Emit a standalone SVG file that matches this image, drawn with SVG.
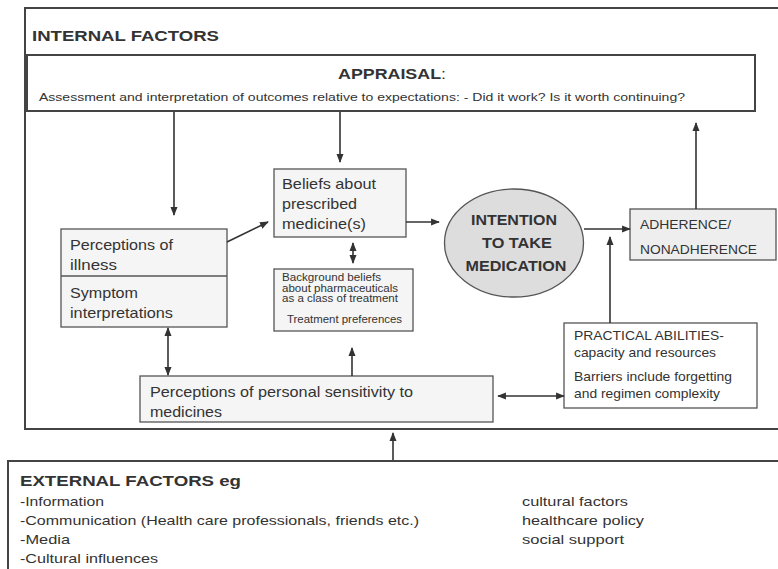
<svg xmlns="http://www.w3.org/2000/svg" width="778" height="569" viewBox="0 0 778 569">
<style>
text{font-family:"Liberation Sans",Arial,sans-serif;fill:#333}
.b{font-weight:bold}
.box{fill:#f5f5f5;stroke:#555;stroke-width:1.3}
.ln{stroke:#333;stroke-width:1.6;fill:none}
</style>
<defs>
<marker id="ah" viewBox="0 0 10 10" refX="9" refY="5" markerWidth="5.5" markerHeight="5.5" orient="auto-start-reverse" markerUnits="strokeWidth">
<path d="M0,1 L10,5 L0,9 Z" fill="#333"/>
</marker>
</defs>
<rect width="778" height="569" fill="#fff"/>

<g id="internal">
<rect x="25" y="8" width="770" height="421" fill="#fff" stroke="#444" stroke-width="2"/>
<text x="32" y="41" class="b" font-size="15" textLength="187" lengthAdjust="spacingAndGlyphs">INTERNAL FACTORS</text>
</g>

<g id="appraisal">
<rect x="27" y="55" width="728" height="56" fill="#fff" stroke="#444" stroke-width="2"/>
<text x="338" y="79" class="b" font-size="15" textLength="108" lengthAdjust="spacingAndGlyphs">APPRAISAL<tspan font-weight="normal">:</tspan></text>
<text x="39" y="101" font-size="11.5" textLength="646" lengthAdjust="spacingAndGlyphs">Assessment and interpretation of outcomes  relative to expectations: - Did it work? Is it worth continuing?</text>
</g>

<g id="perceptions">
<rect x="61" y="229" width="166" height="98" class="box"/>
<line x1="61" y1="276" x2="227" y2="276" stroke="#555" stroke-width="1.3"/>
<text x="70" y="250" font-size="14.5" textLength="103" lengthAdjust="spacingAndGlyphs">Perceptions of</text>
<text x="70" y="270" font-size="14.5" textLength="47" lengthAdjust="spacingAndGlyphs">illness</text>
<text x="70" y="298" font-size="14.5" textLength="68" lengthAdjust="spacingAndGlyphs">Symptom</text>
<text x="70" y="318" font-size="14.5" textLength="103" lengthAdjust="spacingAndGlyphs">interpretations</text>
</g>

<g id="beliefs">
<rect x="274" y="169" width="132" height="68" class="box"/>
<text x="282" y="189" font-size="14.5" textLength="94" lengthAdjust="spacingAndGlyphs">Beliefs about</text>
<text x="282" y="209" font-size="14.5" textLength="75" lengthAdjust="spacingAndGlyphs">prescribed</text>
<text x="282" y="229" font-size="14.5" textLength="84" lengthAdjust="spacingAndGlyphs">medicine(s)</text>
</g>

<g id="background">
<rect x="274" y="269" width="139" height="62" class="box"/>
<text x="282" y="281" font-size="10" textLength="99" lengthAdjust="spacingAndGlyphs">Background beliefs</text>
<text x="282" y="291.5" font-size="10" textLength="116" lengthAdjust="spacingAndGlyphs">about pharmaceuticals</text>
<text x="282" y="302" font-size="10" textLength="116" lengthAdjust="spacingAndGlyphs">as a class of treatment</text>
<text x="287" y="323" font-size="10.5" textLength="115" lengthAdjust="spacingAndGlyphs">Treatment preferences</text>
</g>

<g id="intention">
<ellipse cx="514" cy="243" rx="69.5" ry="54" fill="#ddd" stroke="#555" stroke-width="1.3"/>
<text x="514" y="225" class="b" font-size="14.5" text-anchor="middle" textLength="86" lengthAdjust="spacingAndGlyphs">INTENTION</text>
<text x="517" y="248" class="b" font-size="14.5" text-anchor="middle" textLength="70" lengthAdjust="spacingAndGlyphs">TO TAKE</text>
<text x="516" y="271" class="b" font-size="14.5" text-anchor="middle" textLength="101" lengthAdjust="spacingAndGlyphs">MEDICATION</text>
</g>

<g id="adherence">
<rect x="630" y="209" width="146" height="51" fill="#eee" stroke="#555" stroke-width="1.3"/>
<text x="640" y="229" font-size="13.5" textLength="91" lengthAdjust="spacingAndGlyphs">ADHERENCE/</text>
<text x="640" y="254" font-size="13.5" textLength="117" lengthAdjust="spacingAndGlyphs">NONADHERENCE</text>
</g>

<g id="practical">
<rect x="564" y="323" width="193" height="85" fill="#fff" stroke="#555" stroke-width="1.3"/>
<text x="574" y="340" font-size="13" textLength="150" lengthAdjust="spacingAndGlyphs">PRACTICAL ABILITIES-</text>
<text x="574" y="357" font-size="13" textLength="142" lengthAdjust="spacingAndGlyphs">capacity and resources</text>
<text x="574" y="381" font-size="13" textLength="158" lengthAdjust="spacingAndGlyphs">Barriers include forgetting</text>
<text x="574" y="398" font-size="13" textLength="146" lengthAdjust="spacingAndGlyphs">and regimen complexity</text>
</g>

<g id="sensitivity">
<rect x="140" y="376" width="353" height="46" class="box"/>
<text x="150" y="397" font-size="14.5" textLength="263" lengthAdjust="spacingAndGlyphs">Perceptions of personal sensitivity to</text>
<text x="150" y="417" font-size="14.5" textLength="72" lengthAdjust="spacingAndGlyphs">medicines</text>
</g>

<g id="external">
<rect x="8" y="461" width="790" height="120" fill="#fff" stroke="#444" stroke-width="2"/>
<text x="20" y="486" class="b" font-size="15.5" textLength="221" lengthAdjust="spacingAndGlyphs">EXTERNAL FACTORS eg</text>
<text x="20" y="506" font-size="13" textLength="84" lengthAdjust="spacingAndGlyphs">-Information</text>
<text x="20" y="525" font-size="13" textLength="399" lengthAdjust="spacingAndGlyphs">-Communication (Health care professionals, friends etc.)</text>
<text x="20" y="544" font-size="13" textLength="50" lengthAdjust="spacingAndGlyphs">-Media</text>
<text x="20" y="563" font-size="13" textLength="138" lengthAdjust="spacingAndGlyphs">-Cultural influences</text>
<text x="522" y="506" font-size="13" textLength="106" lengthAdjust="spacingAndGlyphs">cultural factors</text>
<text x="522" y="525" font-size="13" textLength="122" lengthAdjust="spacingAndGlyphs">healthcare policy</text>
<text x="522" y="544" font-size="13" textLength="102" lengthAdjust="spacingAndGlyphs">social support</text>
</g>

<g id="connectors">
<line class="ln" x1="174" y1="112" x2="174" y2="215" marker-end="url(#ah)"/>
<line class="ln" x1="340" y1="112" x2="340" y2="162" marker-end="url(#ah)"/>
<line class="ln" x1="227" y1="242" x2="268" y2="222" marker-end="url(#ah)"/>
<line class="ln" x1="406" y1="222" x2="439" y2="222" marker-end="url(#ah)"/>
<line class="ln" x1="353" y1="243" x2="353" y2="263" marker-start="url(#ah)" marker-end="url(#ah)"/>
<line class="ln" x1="584" y1="229" x2="630" y2="229" marker-end="url(#ah)"/>
<line class="ln" x1="696" y1="209" x2="696" y2="123" marker-end="url(#ah)"/>
<line class="ln" x1="610" y1="323" x2="610" y2="237" marker-end="url(#ah)"/>
<line class="ln" x1="168" y1="328" x2="168" y2="375" marker-start="url(#ah)" marker-end="url(#ah)"/>
<line class="ln" x1="352" y1="376" x2="352" y2="348" marker-end="url(#ah)"/>
<line class="ln" x1="498" y1="396" x2="564" y2="396" marker-start="url(#ah)" marker-end="url(#ah)"/>
<line class="ln" x1="393" y1="460" x2="393" y2="433" marker-end="url(#ah)"/>
</g>
</svg>
